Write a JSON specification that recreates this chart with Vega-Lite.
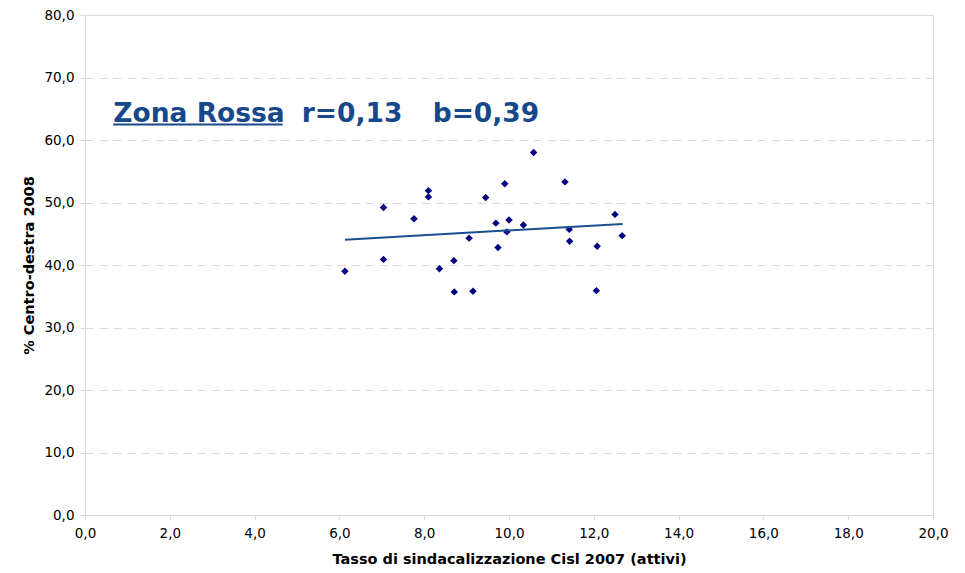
{
  "$schema": "https://vega.github.io/schema/vega-lite/v6.json",
  "width": 848,
  "height": 500,
  "autosize": "none",
  "padding": {"left": 85, "top": 15, "right": 32, "bottom": 58},
  "background": "white",
  "config": {
    "font": "DejaVu Sans",
    "view": {"stroke": "#d9d9d9", "strokeWidth": 1}
  },
  "datasets": {
    "points": [
      {"tasso": 6.13, "cd": 39.0},
      {"tasso": 7.04, "cd": 49.2},
      {"tasso": 7.04, "cd": 40.9},
      {"tasso": 7.76, "cd": 47.4},
      {"tasso": 8.10, "cd": 51.9},
      {"tasso": 8.10, "cd": 50.9},
      {"tasso": 8.36, "cd": 39.4},
      {"tasso": 8.70, "cd": 40.7},
      {"tasso": 8.71, "cd": 35.7},
      {"tasso": 9.06, "cd": 44.3},
      {"tasso": 9.15, "cd": 35.8},
      {"tasso": 9.45, "cd": 50.8},
      {"tasso": 9.69, "cd": 46.7},
      {"tasso": 9.74, "cd": 42.8},
      {"tasso": 9.90, "cd": 53.0},
      {"tasso": 10.0, "cd": 47.2},
      {"tasso": 9.95, "cd": 45.3},
      {"tasso": 10.34, "cd": 46.4},
      {"tasso": 10.58, "cd": 58.0},
      {"tasso": 11.32, "cd": 53.3},
      {"tasso": 11.42, "cd": 45.7},
      {"tasso": 11.43, "cd": 43.8},
      {"tasso": 12.08, "cd": 43.0},
      {"tasso": 12.06, "cd": 35.9},
      {"tasso": 12.50, "cd": 48.1},
      {"tasso": 12.67, "cd": 44.7}
    ],
    "trend": [
      {"tasso": 6.13, "cd": 44.05},
      {"tasso": 12.68, "cd": 46.56}
    ]
  },
  "layer": [
    {
      "data": {"name": "points"},
      "mark": {"type": "point", "shape": "diamond", "filled": true, "color": "#000080", "size": 56, "opacity": 1},
      "encoding": {
        "x": {
          "field": "tasso", "type": "quantitative",
          "scale": {"domain": [0, 20], "nice": false},
          "axis": {
            "values": [0, 2, 4, 6, 8, 10, 12, 14, 16, 18, 20],
            "labelExpr": "replace(format(datum.value, '.1f'), '.', ',')",
            "labelFlush": false,
            "title": "Tasso di sindacalizzazione Cisl 2007 (attivi)",
            "titleFontSize": 14.5, "titleFontWeight": "bold", "titleColor": "#000",
            "titlePadding": 13,
            "labelFontSize": 13.5, "labelColor": "#000", "labelPadding": 6,
            "domainColor": "#d9d9d9", "tickColor": "#d9d9d9", "tickSize": 5,
            "grid": false
          }
        },
        "y": {
          "field": "cd", "type": "quantitative",
          "scale": {"domain": [0, 80], "nice": false},
          "axis": {
            "values": [0, 10, 20, 30, 40, 50, 60, 70, 80],
            "labelExpr": "replace(format(datum.value, '.1f'), '.', ',')",
            "labelFlush": false,
            "title": "% Centro-destra 2008",
            "titleFontSize": 14.5, "titleFontWeight": "bold", "titleColor": "#000",
            "titlePadding": 7,
            "labelFontSize": 13.5, "labelColor": "#000", "labelPadding": 6,
            "domainColor": "#d9d9d9", "tickColor": "#d9d9d9", "tickSize": 5,
            "grid": true, "gridColor": "#d9d9d9", "gridDash": [8, 6]
          }
        }
      }
    },
    {
      "data": {"name": "trend"},
      "mark": {"type": "line", "color": "#1a4f8f", "strokeWidth": 2},
      "encoding": {
        "x": {"field": "tasso", "type": "quantitative"},
        "y": {"field": "cd", "type": "quantitative"}
      }
    },
    {
      "data": {"values": [{}]},
      "mark": {"type": "text", "text": "Zona Rossa", "font": "DejaVu Sans", "fontWeight": "bold", "fontSize": 26.5, "color": "#17498a", "align": "left", "baseline": "alphabetic"},
      "encoding": {"x": {"datum": 0.667}, "y": {"datum": 62.9}}
    },
    {
      "data": {"values": [{}]},
      "mark": {"type": "text", "text": "r=0,13", "font": "DejaVu Sans", "fontWeight": "bold", "fontSize": 26.5, "color": "#17498a", "align": "left", "baseline": "alphabetic"},
      "encoding": {"x": {"datum": 5.11}, "y": {"datum": 62.9}}
    },
    {
      "data": {"values": [{}]},
      "mark": {"type": "text", "text": "b=0,39", "font": "DejaVu Sans", "fontWeight": "bold", "fontSize": 26.5, "color": "#17498a", "align": "left", "baseline": "alphabetic"},
      "encoding": {"x": {"datum": 8.2}, "y": {"datum": 62.9}}
    },
    {
      "data": {"values": [{}]},
      "mark": {"type": "rule", "color": "#17498a", "strokeWidth": 2},
      "encoding": {"x": {"datum": 0.667}, "x2": {"datum": 4.66}, "y": {"datum": 62.5}}
    }
  ]
}
